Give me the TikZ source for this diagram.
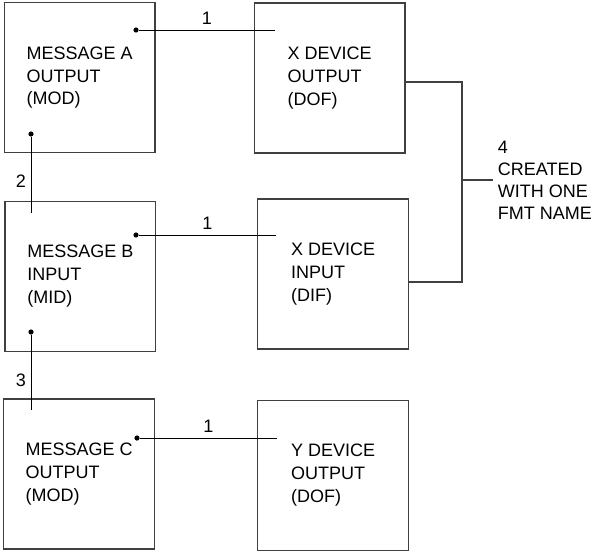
\documentclass[tikz,border=0pt]{standalone}
\usepackage{fontspec}
\setmainfont{Liberation Sans}
\usetikzlibrary{positioning}

\begin{document}
\begin{tikzpicture}[font=\fontsize{12.8}{16.3}\selectfont,
    box/.style={draw=black!75, line width=0.9pt, minimum width=3.77cm,
      minimum height=3.75cm, align=left},
    wire/.style={line width=0.7pt},
    dot/.style={circle, fill, inner sep=0pt, minimum size=0.13cm}]
    \useasboundingbox (0,0) rectangle (14.925,-13.8);
    % message boxes
    \node[box] (ma) at (1.99,-1.94) {MESSAGE A\\OUTPUT\\(MOD)};
    \node[box] (mb) at (2.01,-6.91) {MESSAGE B\\INPUT\\(MID)};
    \node[box] (mc) at (1.98,-11.85) {MESSAGE C\\OUTPUT\\(MOD)};
    % device boxes
    \node[box] (xo) at (8.24,-1.95) {X DEVICE\\OUTPUT\\(DOF)};
    \node[box] (xi) at (8.33,-6.85) {X DEVICE\\INPUT\\(DIF)};
    \node[box] (yo) at (8.33,-11.88) {Y DEVICE\\OUTPUT\\(DOF)};
    % dots and free ends
    \node[dot] (ma-dot) at (3.4,-0.75) {};
    \node[dot] (mb-dot) at (3.4,-5.875) {};
    \node[dot] (mc-dot) at (3.425,-10.95) {};
    \node[dot] (ma-low) at (0.775,-3.35) {};
    \node[dot] (mb-low) at (0.775,-8.3) {};
    \coordinate (xo-in) at (6.875,-0.75);
    \coordinate (xi-in) at (6.9,-5.875);
    \coordinate (yo-in) at (6.925,-10.95);
    \coordinate (mb-top) at (0.775,-5.325);
    \coordinate (mc-top) at (0.775,-10.25);
    \draw[wire] (ma-dot) -- node[above] (n1a) {1} (xo-in);
    \draw[wire] (mb-dot) -- node[above] (n1b) {1} (xi-in);
    \draw[wire] (mc-dot) -- node[above] (n1c) {1} (yo-in);
    \draw[wire] (ma-low) -- node[left, pos=0.58] (n2) {2} (mb-top);
    \draw[wire] (mb-low) -- node[left, pos=0.6] (n3) {3} (mc-top);
    % bracket to the note
    \coordinate (join) at (11.55,-4.5);
    \node[right=0.775cm of join, align=left,
      font=\fontsize{12.8}{15.6}\selectfont] (note)
      {4\\CREATED\\WITH ONE\\FMT NAME};
    \draw[draw=black!75, line width=0.8pt] ([yshift=-0.1cm]xo.east) -| (join)
      |- ([yshift=-0.2cm]xi.east);
    \draw[draw=black!75, line width=0.8pt] (join) -- (note.west);
\end{tikzpicture}
\end{document}
